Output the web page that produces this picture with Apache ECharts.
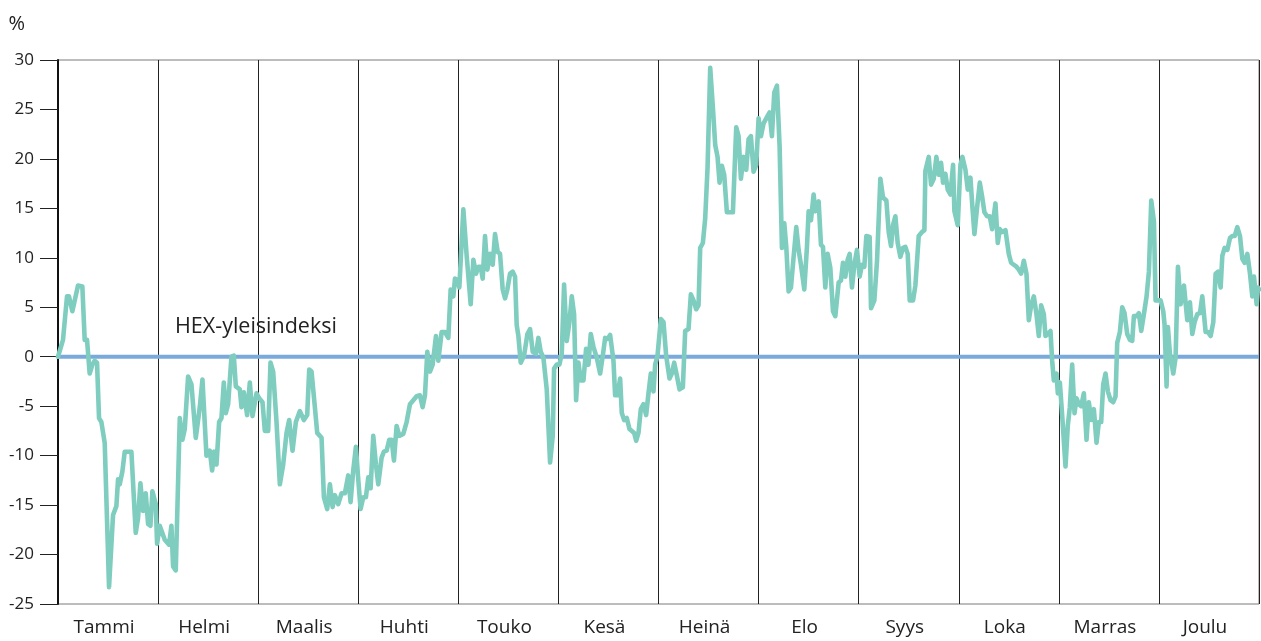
<!DOCTYPE html>
<html>
<head>
<meta charset="utf-8">
<script src="https://cdn.jsdelivr.net/npm/echarts@6/dist/echarts.min.js"></script>
<style>
html,body{margin:0;padding:0;background:#fff;}
#chart{width:1261px;height:641px;}
</style>
</head>
<body>
<div id="chart"></div>
<script>
// Month names (x axis labels)
const months = ['Tammi','Helmi','Maalis','Huhti','Touko','Kesä','Heinä','Elo','Syys','Loka','Marras','Joulu'];
// Y tick range
const yMin = -25, yMax = 30, yStep = 5;
// Position in the year (30 units per month) and relative performance vs. HEX index (%)
const days = [
0,1.5,2.7,3.3,4.3,6,7.3,8,8.7,9.5,10.3,11,11.7,12.3,13,14,15.3,16.5,17.5,18,18.5,19.3,20,22,23.3,24,24.7,25.5,26.3,27,27.7,28.3,29.3,29.7,
30.5,31,32,33.3,34,34.5,35.3,36.5,37.3,38,39,40,41.3,42.5,43.3,44.5,45.5,46.2,46.8,47.5,48.3,49,49.7,50.3,51,52,52.7,53.3,54.5,55,55.7,56.7,57.5,58.3,59.5,
60.3,61.3,62,63,63.7,64.5,65.5,66.5,67.5,68.5,69.3,70.3,71.3,72.5,73.7,74.7,75.3,76,77,77.7,79,79.7,80.7,81.5,82.3,83,84,85,86,87,87.7,88.5,89.3,
90,90.7,91.5,92.3,93,93.7,94.5,95.3,96,97,97.7,98.5,99.3,100,100.7,101.5,102.3,103.5,104.5,105.5,106.5,107.5,108.5,109.3,110,110.7,111.5,112.3,113.3,114,115,116,117,117.7,118.5,119,119.7,
120.3,121.5,122.5,123.7,124.5,125.3,126,126.7,127.3,128,128.7,129.5,130.3,131,131.8,132.5,133.3,134,134.7,135.5,136.3,137,137.5,138,138.7,139.7,140.7,141.5,142.3,143.3,144,144.7,145.5,146.5,147.5,148.3,148.7,149.5,
150.3,151,151.7,152.5,153.3,154,154.7,155.3,156,156.7,157.5,158.3,159,159.7,160.5,161.5,162.5,163.3,164,164.7,165.5,166.5,167,167.7,168.5,169,169.7,170.5,171.3,172,172.7,173.3,174,174.7,175.5,176.3,177,177.7,178.5,179,179.7,
180.7,181.5,182.3,183.3,184,184.7,185.5,186.3,187.3,188,189,189.7,190.5,191.3,192,192.5,193.3,194,194.7,195.5,196.3,197,197.7,198.3,199,199.7,200.5,201.5,202.3,203.3,204,204.7,205.5,206.3,207,207.7,208.5,209.3,
210,210.7,211.5,212.3,213.3,214,214.7,215.5,216.3,217,217.7,218.3,219,219.7,220.5,221.3,222,222.7,223.7,224.5,225,225.7,226.5,227,228,228.7,229.3,230,230.7,231.5,232.3,233,234,234.7,235.3,236,236.7,237.3,238,238.7,239.5,
240.3,241,241.7,242.3,243.3,243.7,244.7,245.5,246.5,247.3,248.3,249,249.7,250.3,251,251.7,252.5,253.3,254,254.7,255.3,256.3,257,257.5,258,259,259.7,260,261,261.7,262.5,263.3,264,264.7,265.3,266,266.7,267.5,268.3,268.7,269.7,
270.5,271.1,272,272.7,273.5,274.1,274.7,275.5,276.3,277,277.7,278.5,279.3,280,280.5,281,281.7,282.3,283,284,285,285.7,286.5,287.3,288,288.7,289.5,290.3,291,291.7,292.5,293.3,294,294.7,295.5,296,296.7,297.5,298,298.5,299.3,299.7,
300.3,301,302,302.7,303.3,304,304.7,305.3,306,306.7,307.5,308.3,309,309.7,310.5,311.3,312,312.7,313.3,314,314.7,315.5,316.3,317,317.5,318.3,319,319.7,320.5,321.3,322,322.5,323.3,324,324.7,325.5,326.3,327,327.7,328.5,329,329.7,
330.5,331.3,331.7,332.3,332.7,333.3,333.7,334.3,335,335.7,336.5,337,337.5,338,338.5,339.3,340,340.7,341.5,342.3,343,344,344.7,345.5,346.3,347,347.7,348.5,349,349.7,350.5,351.3,352,352.7,353.5,354.3,355,355.7,356.5,357.3,358,358.5,359.3,359.7,360
];
const values = [
0,1.7,6.1,6.1,4.6,7.2,7.1,1.7,1.7,-1.7,-0.8,-0.4,-0.6,-6.2,-6.6,-8.7,-23.3,-16.0,-15.1,-12.4,-12.9,-11.6,-9.6,-9.6,-17.8,-16.3,-12.8,-15.6,-13.8,-16.9,-17.1,-13.6,-14.9,-18.9,
-17.1,-17.2,-18.5,-19.0,-17.1,-21.2,-21.6,-6.2,-8.4,-7.3,-2.0,-2.8,-8.2,-5.1,-2.3,-10.0,-9.5,-11.5,-9.6,-10.9,-6.6,-6.2,-2.6,-5.7,-4.8,0,0.1,-3.0,-3.3,-5.1,-3.6,-5.9,-2.6,-6.0,-3.7,
-4.2,-4.6,-7.5,-7.5,-0.6,-1.5,-6.6,-12.9,-10.9,-7.7,-6.4,-9.5,-6.6,-5.5,-6.4,-5.9,-1.3,-1.5,-5.1,-7.7,-8.2,-14.2,-15.4,-12.9,-15.2,-14.0,-14.9,-13.8,-13.8,-12.0,-14.7,-11.5,-9.1,
-12.4,-15.4,-14.2,-14.2,-12.2,-13.3,-8.0,-10.9,-12.9,-10.2,-9.6,-9.5,-8.4,-8.4,-10.5,-7.0,-8.0,-7.8,-6.6,-4.8,-4.4,-4.0,-3.9,-5.1,-3.9,0.5,-1.5,-0.8,2.1,-0.4,2.5,2.5,1.9,6.8,6.1,7.9,7.7,
7.0,14.9,10.2,5.3,9.8,8.4,9.1,9.1,7.9,12.2,8.8,10.4,9.3,12.4,10.6,10.4,6.8,5.9,6.8,8.4,8.6,8.1,3.2,2.1,-0.6,0.1,2.3,2.8,0.5,0.3,1.9,0.5,-0.1,-3.3,-10.7,-8.0,-1.2,-0.8,
-0.8,0.3,7.3,1.6,3.5,6.1,4.3,-4.4,-0.6,-2.4,-2.4,0.8,-0.8,2.3,1.0,-0.1,-1.7,0.1,1.9,1.8,2.2,-0.4,-3.9,-3.9,-2.2,-5.7,-6.4,-6.2,-7.3,-7.5,-7.7,-8.5,-7.7,-5.3,-4.8,-5.9,-3.7,-1.7,-3.5,-0.8,0.1,
3.8,3.5,0.1,-2.2,-1.7,-0.6,-1.9,-3.3,-3.1,2.6,2.8,6.3,5.7,4.8,5.2,11.0,11.5,14.0,19.1,29.2,25.2,21.4,20.2,17.6,19.3,18.4,14.6,14.6,14.6,23.2,22.3,18.0,20.2,18.9,22.0,22.3,18.7,19.4,
24.1,22.3,23.6,24.1,24.7,22.3,26.7,27.4,21.3,11.0,13.5,11.1,6.6,7.0,10.1,13.1,10.8,9.3,6.8,11.1,14.7,13.8,16.4,14.7,15.7,11.3,11.1,7.0,10.4,9.0,4.6,4.1,7.5,7.7,9.5,8.1,9.8,10.4,7.0,9.3,10.8,
8.1,9.3,9.1,12.2,12.1,4.9,5.7,9.7,18.0,16.1,15.8,12.6,11.2,13.3,14.2,11.5,10.1,11.0,11.1,10.4,5.7,5.7,7.2,9.7,12.2,12.6,12.8,18.8,20.2,17.4,18.0,20.2,18.4,19.6,17.6,18.5,16.9,16.4,19.4,14.7,13.3,
19.4,20.2,18.9,16.9,18.1,15.1,12.4,15.1,17.6,16.2,14.6,14.2,14.2,12.9,12.8,15.5,11.5,12.9,12.6,12.8,10.4,9.5,9.3,9.1,8.8,8.4,9.7,8.4,3.7,5.2,6.1,4.3,2.1,5.2,4.3,2.1,2.3,2.6,-0.4,-2.4,-1.7,-3.7,
-2.6,-5.9,-11.1,-6.9,-5.1,-0.8,-5.7,-4.2,-4.8,-5.0,-3.7,-8.4,-4.6,-6.4,-5.3,-8.7,-6.6,-6.6,-2.8,-1.7,-3.5,-4.4,-4.6,-4.0,1.4,2.5,5.0,4.4,2.3,1.7,1.6,4.1,4.1,4.4,2.6,4.3,6.1,8.6,15.8,13.7,5.7,5.7,
5.7,4.6,3.2,-3.0,3.0,0.3,-0.4,-1.7,-0.1,9.1,5.3,6.1,7.2,7.2,3.7,5.5,2.3,3.5,4.3,4.4,6.1,2.5,2.5,2.1,3.5,8.4,8.6,7.0,10.2,11.0,10.8,12.0,12.2,12.2,13.1,12.2,9.9,9.5,10.4,8.4,6.1,8.1,5.3,7.0,6.8
];
const indexName = 'HEX-yleisindeksi';
const indexLevel = [[0,0],[360,0]];

const seriesData = days.map((d,i)=>[d, values[i]]);

const chart = echarts.init(document.getElementById('chart'));
const fontFam = '"Open Sans", "Noto Sans", sans-serif';
chart.setOption({
  animation: false,
  backgroundColor: '#fff',
  grid: {left: 58, right: 2, top: 60, bottom: 37, show: true, borderColor: '#7a7a7a', borderWidth: 1},
  xAxis: [
    {type: 'value', min: 0, max: 360, interval: 30,
     axisLine: {show: false}, axisTick: {show: false}, axisLabel: {show: false},
     splitLine: {show: true, lineStyle: {color: '#222', width: 1}}},
    {type: 'category', data: months, boundaryGap: true, position: 'bottom',
     axisLine: {show: false}, axisTick: {show: false}, splitLine: {show: false},
     axisLabel: {color: '#222', fontSize: 19, fontFamily: fontFam, margin: 14, padding: [0, 8, 0, 0]}}
  ],
  yAxis: {
    type: 'value', min: yMin, max: yMax, interval: yStep,
    name: '%', nameLocation: 'end', nameGap: 26,
    nameTextStyle: {color: '#222', fontSize: 20, fontFamily: fontFam, align: 'right', padding: [0, 33, 0, 0]},
    axisLine: {show: true, lineStyle: {color: '#111', width: 2}},
    axisTick: {show: true, length: 18, lineStyle: {color: '#222', width: 1}},
    axisLabel: {color: '#222', fontSize: 17, fontFamily: fontFam, margin: 24},
    splitLine: {show: false}
  },
  series: [
    {type: 'line', name: indexName, data: indexLevel, xAxisIndex: 0, symbol: 'none',
     lineStyle: {color: '#7aaadc', width: 4}, z: 2, silent: true},
    {type: 'line', name: 'osake', data: seriesData, xAxisIndex: 0, symbol: 'none',
     lineStyle: {color: '#7fcdbe', width: 4.6, join: 'round', cap: 'round'}, z: 3, silent: true}
  ],
  graphic: [
    {type: 'text', left: 175, top: 316, style: {text: indexName, fill: '#222', fontSize: 21.5, fontFamily: fontFam}}
  ]
});
</script>
</body>
</html>
